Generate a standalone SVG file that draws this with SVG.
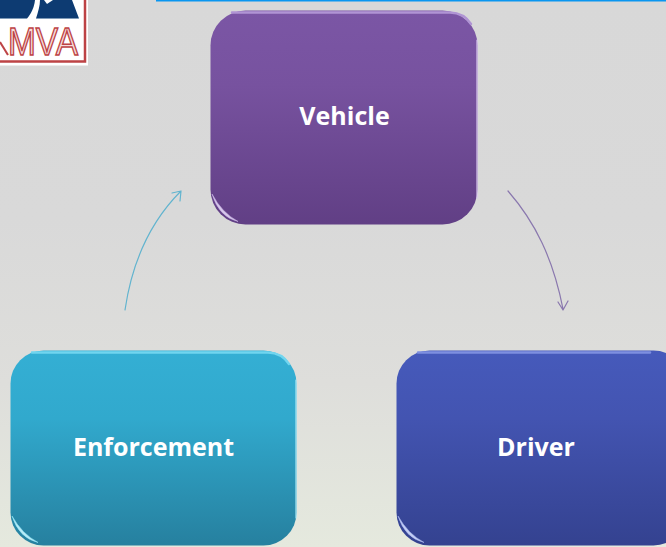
<svg xmlns="http://www.w3.org/2000/svg" width="666" height="547" viewBox="0 0 666 547">
<style>
.lbl{font-family:"Open Sans","Noto Sans","Liberation Sans",sans-serif;font-weight:700;font-size:25px;fill:#fff;text-anchor:middle}
.hl{fill:none;stroke-width:2.400;stroke-linecap:round;filter:url(#soft)}
.edge{fill:none;stroke-width:1.200;stroke-linecap:round;filter:url(#soft)}
.conn{fill:none;stroke-width:1.200;stroke-linecap:round;stroke-linejoin:round;filter:url(#soft)}
</style>
<defs>
<filter id="soft" filterUnits="userSpaceOnUse" x="0" y="0" width="666" height="547"><feGaussianBlur stdDeviation="0.4"/></filter>
<linearGradient id="bg" x1="0" y1="0" x2="0" y2="1"><stop offset="0" stop-color="#d8d8d8"/><stop offset=".4" stop-color="#d9d9d9"/><stop offset=".7" stop-color="#dededb"/><stop offset="1" stop-color="#e5e9de"/></linearGradient>
<linearGradient id="pu" x1="0" y1="0" x2="0" y2="1"><stop offset="0" stop-color="#7b56a5"/><stop offset=".35" stop-color="#77529f"/><stop offset="1" stop-color="#613f85"/></linearGradient>
<linearGradient id="cy" x1="0" y1="0" x2="0" y2="1"><stop offset="0" stop-color="#34afd4"/><stop offset=".35" stop-color="#31a9cd"/><stop offset="1" stop-color="#26809f"/></linearGradient>
<linearGradient id="bl" x1="0" y1="0" x2="0" y2="1"><stop offset="0" stop-color="#465abb"/><stop offset=".35" stop-color="#4354b1"/><stop offset="1" stop-color="#344290"/></linearGradient>
</defs>
<rect width="666" height="547" fill="url(#bg)"/>
<rect x="156" y="0" width="510" height="1.500" fill="#0a96f0"/>
<g id="logo">
<rect x="0" y="0" width="88" height="65.500" fill="#fff"/>
<path d="M0 61.500H85V0" fill="none" stroke="#bd4345" stroke-width="2.500"/>
<path d="M0 0H35C34 8 31 14 27 18.500H0Z" fill="#0a3a72" filter="url(#soft)"/>
<path d="M36 18.500C38 12 40 6 40 0H44L47 4L53 0H72L79 18.500Z" fill="#0a3a72" filter="url(#soft)"/>
<path d="M0 42L8 55" fill="none" stroke="#bd4345" stroke-width="2"/>
<text x="8" y="55" font-family="Liberation Sans,sans-serif" font-size="39" fill="#f6dcdc" stroke="#bd4345" stroke-width="1.500" textLength="70" lengthAdjust="spacingAndGlyphs">MVA</text>
</g>
<g id="connectors">
<path class="conn" stroke="#8a78ae" d="M508 191C535 222 553 258 563 309M558 302L563 310L568 301"/>
<path class="conn" stroke="#62b4cf" d="M125 310C132 262 150 222 181 191M172 193L181 191L180 201"/>
</g>
<g id="vehicle">
<rect x="210.500" y="10.500" width="267" height="214" rx="35" fill="url(#pu)"/>
<path class="hl" stroke="#b094d4" d="M232 12.500H450Q464 13 471 24"/>
<path class="edge" stroke="#d9c8ee" d="M477 40V198"/>
<path d="M212 194Q219 217 238 221.500Q222 213 212 194Z" fill="#d8c8ec" stroke="#c4aee0" stroke-width=".6" filter="url(#soft)"/>
<text class="lbl" x="344.500" y="125">Vehicle</text>
</g>
<g id="enforcement">
<rect x="10.500" y="350.500" width="286" height="195" rx="33" fill="url(#cy)"/>
<path class="hl" stroke="#6fd5ef" d="M32 352.500H268Q282 353 289 364"/>
<path class="edge" stroke="#a8e8f6" d="M296 380V518"/>
<path d="M12 516Q19 538 38 542.500Q22 534 12 516Z" fill="#b8ecf8" stroke="#8fe0f2" stroke-width=".6" filter="url(#soft)"/>
<text class="lbl" x="153.500" y="456">Enforcement</text>
</g>
<g id="driver">
<rect x="396.500" y="350.500" width="290" height="195" rx="33" fill="url(#bl)"/>
<path class="hl" stroke="#7d8fe0" d="M418 352.500H650"/>
<path d="M398 516Q405 538 424 542.500Q408 534 398 516Z" fill="#c4cff4" stroke="#a4b2ec" stroke-width=".6" filter="url(#soft)"/>
<text class="lbl" x="536" y="456">Driver</text>
</g>
</svg>
